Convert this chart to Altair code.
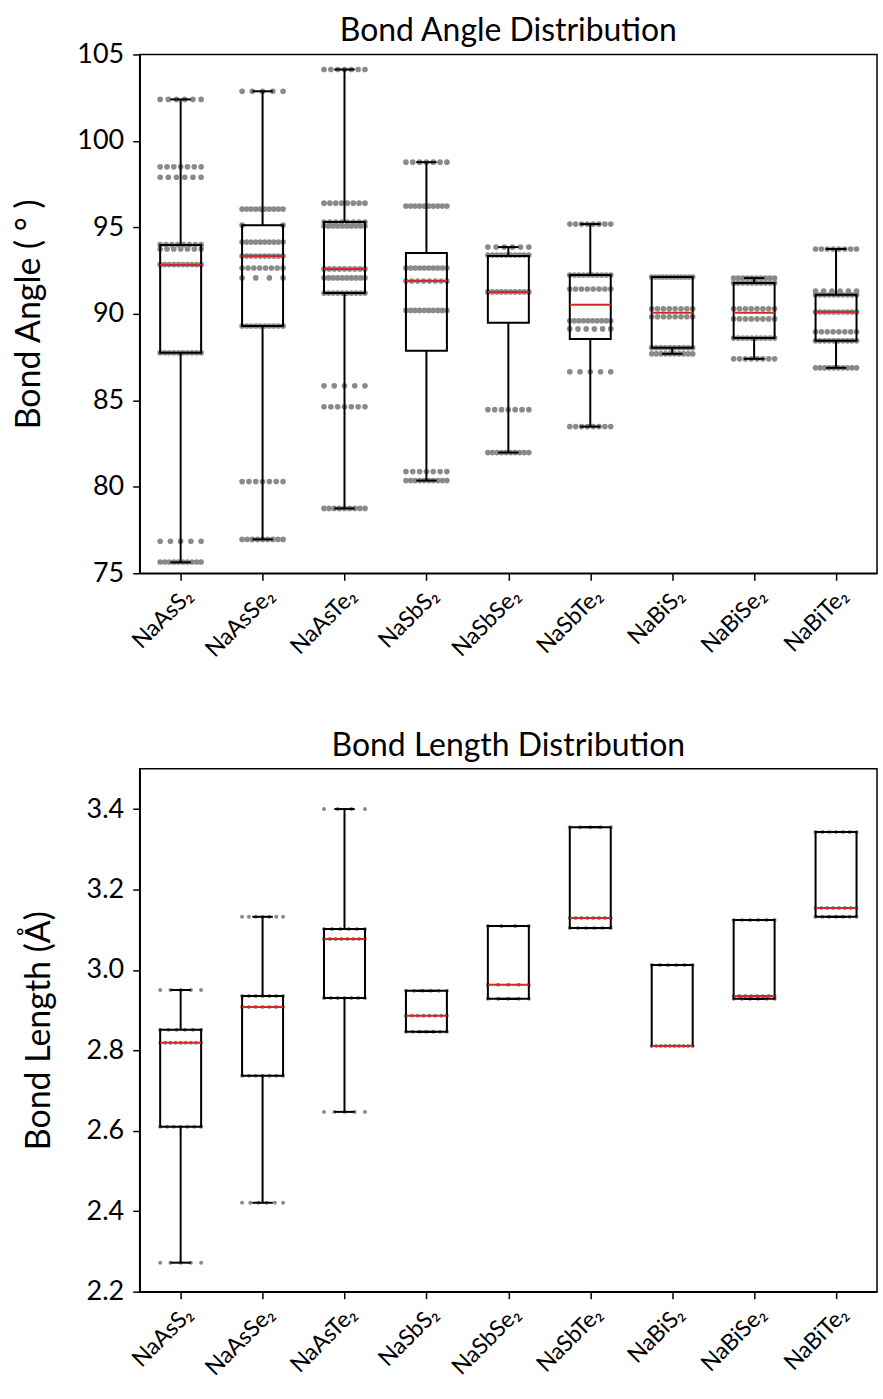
import json
import altair as alt
import pandas as pd

compounds = ["NaAsS₂", "NaAsSe₂", "NaAsTe₂", "NaSbS₂", "NaSbSe₂",
             "NaSbTe₂", "NaBiS₂", "NaBiSe₂", "NaBiTe₂"]

# ---- Bond angle: distinct values per compound and how many points sit at each
angle_levels = [
    [102.4, 98.5, 97.9, 94.0, 93.75, 92.85, 87.75, 76.85, 75.65],
    [102.87, 96.06, 95.13, 94.15, 93.34, 92.65, 92.08, 89.3, 80.3, 76.96],
    [104.13, 96.4, 95.31, 95.08, 92.6, 92.08, 91.2, 85.84, 84.63, 78.75],
    [98.77, 96.23, 92.65, 91.9, 90.2, 80.88, 80.36],
    [93.86, 93.4, 91.27, 84.46, 81.98],
    [95.19, 92.25, 91.44, 89.6, 89.13, 86.65, 83.48],
    [92.13, 90.29, 89.83, 88.04, 87.69],
    [92.07, 91.79, 90.29, 89.71, 88.6, 87.4],
    [93.75, 91.32, 91.1, 90.11, 88.96, 88.44, 86.88],
]
angle_counts = [
    [6, 7, 6, 8, 7, 10, 10, 5, 10],
    [5, 10, 2, 10, 10, 8, 4, 10, 7, 9],
    [7, 8, 8, 10, 9, 10, 10, 5, 7, 9],
    [7, 10, 10, 8, 10, 7, 10],
    [6, 10, 10, 7, 10],
    [8, 10, 8, 10, 6, 5, 8],
    [12, 8, 8, 10, 10],
    [10, 10, 8, 8, 10, 8],
    [8, 6, 10, 10, 8, 10, 10],
]
angle_lo = [75.63, 76.96, 78.75, 80.36, 81.98, 83.48, 87.69, 87.4, 86.88]
angle_q1 = [87.75, 89.3, 91.2, 87.86, 89.48, 88.55, 88.04, 88.6, 88.44]
angle_med = [92.83, 93.34, 92.6, 91.9, 91.27, 90.52, 90.06, 90.06, 90.11]
angle_q3 = [93.98, 95.13, 95.31, 93.52, 93.34, 92.25, 92.13, 91.79, 91.1]
angle_hi = [102.4, 102.87, 104.13, 98.77, 93.86, 95.19, 92.13, 92.07, 93.75]

# ---- Bond length
length_levels = [
    [2.95, 2.851, 2.819, 2.61, 2.272],
    [3.132, 2.935, 2.908, 2.737, 2.421],
    [3.40, 3.102, 3.077, 2.93, 2.647],
    [2.948, 2.886, 2.846],
    [3.109, 2.963, 2.928],
    [3.355, 3.129, 3.104],
    [3.012, 2.811],
    [3.124, 2.935, 2.928],
    [3.343, 3.154, 3.132],
]
length_counts = [
    [5, 6, 9, 7, 5],
    [7, 7, 7, 7, 6],
    [4, 6, 8, 7, 5],
    [6, 8, 7],
    [4, 5, 5],
    [5, 8, 6],
    [6, 10],
    [6, 8, 6],
    [7, 8, 7],
]
length_lo = [2.272, 2.421, 2.647, 2.846, 2.928, 3.104, 2.811, 2.928, 3.132]
length_q1 = [2.61, 2.737, 2.93, 2.846, 2.928, 3.104, 2.811, 2.928, 3.132]
length_med = [2.819, 2.908, 3.077, 2.886, 2.963, 3.129, 2.811, 2.935, 3.154]
length_q3 = [2.851, 2.935, 3.102, 2.948, 3.109, 3.355, 3.012, 3.124, 3.343]
length_hi = [2.95, 3.132, 3.40, 2.948, 3.109, 3.355, 3.012, 3.124, 3.343]

SPREAD = 0.25   # half-width of the strip, in category units
BOX_HALF = 0.25
CAP_HALF = 0.125


def points_table(levels, counts):
    rows = []
    for i, (lv, ct) in enumerate(zip(levels, counts)):
        for v, n in zip(lv, ct):
            for k in range(n):
                off = 0.0 if n == 1 else -SPREAD + 2 * SPREAD * k / (n - 1)
                rows.append({"pos": i + 1 + off, "value": v})
    return pd.DataFrame(rows)


def box_table(lo, q1, med, q3, hi):
    rows = []
    for i in range(len(compounds)):
        p = i + 1
        rows.append({"pos": p, "left": p - BOX_HALF, "right": p + BOX_HALF,
                     "capl": p - CAP_HALF, "capr": p + CAP_HALF,
                     "lo": lo[i], "q1": q1[i], "med": med[i], "q3": q3[i], "hi": hi[i]})
    return pd.DataFrame(rows)


label_expr = json.dumps(compounds, ensure_ascii=False) + "[datum.value - 1]"


def panel(points, boxes, title, ytitle, ydomain, yvalues, fmt, height, pt_size, title_offset):
    xscale = alt.Scale(domain=[0.5, 9.5], nice=False, zero=False)
    xaxis = alt.Axis(values=list(range(1, 10)), labelExpr=label_expr, labelAngle=-45,
                     labelAlign="right", labelBaseline="top", grid=False, title=None)
    yscale = alt.Scale(domain=ydomain, nice=False, zero=False)
    yaxis = alt.Axis(values=yvalues, format=fmt, grid=False, title=ytitle)

    def X(f):
        return alt.X(f + ":Q", scale=xscale, axis=xaxis)

    def Y(f):
        return alt.Y(f + ":Q", scale=yscale, axis=yaxis)

    pts = alt.Chart(points).mark_circle(size=pt_size, color="#8a8a8a", opacity=1).encode(
        x=X("pos"), y=Y("value"))
    b = alt.Chart(boxes)
    box = b.mark_rect(filled=False, color="black", strokeWidth=2).encode(
        x=X("left"), x2="right", y=Y("q1"), y2="q3")
    wu = b.mark_rule(color="black", strokeWidth=2).encode(x=X("pos"), y=Y("q3"), y2="hi")
    wl = b.mark_rule(color="black", strokeWidth=2).encode(x=X("pos"), y=Y("q1"), y2="lo")
    cu = b.mark_rule(color="black", strokeWidth=2).encode(x=X("capl"), x2="capr", y=Y("hi"))
    cl = b.mark_rule(color="black", strokeWidth=2).encode(x=X("capl"), x2="capr", y=Y("lo"))
    md = b.mark_rule(color="#d62728", strokeWidth=2).encode(x=X("left"), x2="right", y=Y("med"))
    return alt.layer(pts, box, wu, wl, cu, cl, md).properties(
        width=739, height=height,
        title=alt.TitleParams(title, offset=title_offset))


top = panel(points_table(angle_levels, angle_counts),
            box_table(angle_lo, angle_q1, angle_med, angle_q3, angle_hi),
            "Bond Angle Distribution", "Bond Angle ( ° )", [75, 105],
            [75, 80, 85, 90, 95, 100, 105], "d", 520, 32, -8)
bottom = panel(points_table(length_levels, length_counts),
               box_table(length_lo, length_q1, length_med, length_q3, length_hi),
               "Bond Length Distribution", "Bond Length (Å)", [2.2, 3.5],
               [2.2, 2.4, 2.6, 2.8, 3.0, 3.2, 3.4], ".1f", 524, 16, 6)

FONT = "Lato, DejaVu Sans, sans-serif"
chart = alt.vconcat(top, bottom, spacing=66).properties(
    padding={"left": 12, "top": 13, "right": 5, "bottom": 5}
).configure_view(stroke="black", strokeWidth=1.5).configure_axis(
    domainColor="black", domainWidth=1.5, tickColor="black", tickWidth=1.5, tickSize=7,
    labelColor="black", labelFont=FONT, titleFont=FONT, titleFontSize=34,
    titleFontWeight="normal", titleColor="black"
).configure_axisY(labelFontSize=27, labelPadding=9, titlePadding=30).configure_axisX(
    labelFontSize=23, labelPadding=4
).configure_title(font=FONT, fontSize=32, fontWeight="normal", color="black")

chart.save("out.html", embed_options={"renderer": "svg", "actions": False})
